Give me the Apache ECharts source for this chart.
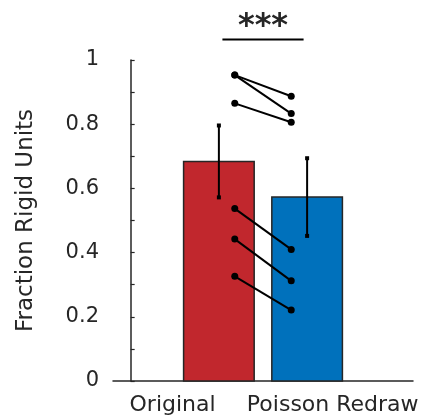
<!DOCTYPE html>
<html><head><meta charset="utf-8">
<script src="https://cdn.jsdelivr.net/npm/echarts@6/dist/echarts.min.js"></script>
<style>html,body{margin:0;padding:0;background:#fff}#c{width:425px;height:419px}</style>
</head><body><div id="c"></div>
<script>
// ---- data ----
const categories = ['Original', 'Poisson Redraw'];
const barPositions = [1, 2];
const means = [0.684, 0.573];
const sems = [0.112, 0.121];
const originalPoints = [0.953, 0.953, 0.865, 0.537, 0.442, 0.326];
const redrawPoints = [0.887, 0.833, 0.806, 0.410, 0.312, 0.221];
const yTickLabels = [0, 0.2, 0.4, 0.6, 0.8, 1];
const significanceLabel = '***';
const significanceLevel = 1.064;

// ---- layout / style ----
const barColors = ['#C1272D', '#0071BC'];
const ink = '#262626';
const font = 'DejaVu Sans';
const pairOffset = 0.18;
const labelPositions = [0.475, 2.29];

const chart = echarts.init(document.getElementById('c'), null, {renderer: 'canvas'});

const pairSeries = originalPoints.map((o, i) => ({
  type: 'line',
  data: [[barPositions[0] + pairOffset, o], [barPositions[1] - pairOffset, redrawPoints[i]]],
  symbol: 'circle', symbolSize: 7, showSymbol: true,
  itemStyle: {color: '#000'},
  lineStyle: {color: '#000', width: 2},
  z: 5, silent: true
}));

chart.setOption({
  animation: false,
  grid: {left: 113, right: 12, top: 60, bottom: 38, containLabel: false, outerBoundsMode: 'none'},
  xAxis: {
    type: 'value', min: -0.2, max: 3.2,
    splitLine: {show: false},
    axisLine: {show: true, onZero: false, lineStyle: {color: ink, width: 1.5}},
    axisTick: {show: true, inside: true, length: 4, customValues: barPositions, lineStyle: {color: ink, width: 1.2}},
    axisLabel: {
      customValues: labelPositions, margin: 13,
      fontFamily: font, fontSize: 22, color: ink,
      formatter: v => (v < 1.5 ? categories[0] : categories[1])
    }
  },
  yAxis: {
    type: 'value', min: 0, max: 1, interval: 0.1,
    splitLine: {show: false},
    axisLine: {show: true, lineStyle: {color: ink, width: 1.5}},
    axisTick: {show: true, inside: true, length: 4, lineStyle: {color: ink, width: 1.2}},
    axisLabel: {
      customValues: yTickLabels, margin: 14,
      fontFamily: font, fontSize: 21, color: ink,
      formatter: v => String(v)
    },
    name: 'Fraction Rigid Units', nameLocation: 'middle', nameGap: 75,
    nameTextStyle: {fontFamily: font, fontSize: 23, color: ink}
  },
  series: [
    {
      type: 'custom', clip: false, z: 2,
      data: barPositions.map((x, i) => [x, means[i]]),
      encode: {x: 0, y: 1},
      renderItem: (params, api) => {
        const x = api.value(0), y = api.value(1);
        const p0 = api.coord([x - 0.4, y]);
        const p1 = api.coord([x + 0.4, 0]);
        return {type: 'rect',
          shape: {x: p0[0], y: p0[1], width: p1[0] - p0[0], height: p1[1] - p0[1]},
          style: {fill: barColors[params.dataIndex], stroke: ink, lineWidth: 1.5}};
      }
    },
    {
      type: 'custom', clip: false, z: 4,
      data: barPositions.map((x, i) => [x, means[i] - sems[i], means[i] + sems[i]]),
      encode: {x: 0, y: [1, 2]},
      renderItem: (params, api) => {
        const x = api.value(0);
        const lo = api.coord([x, api.value(1)]);
        const hi = api.coord([x, api.value(2)]);
        const s = 4;
        return {type: 'group', children: [
          {type: 'line', shape: {x1: lo[0], y1: lo[1], x2: hi[0], y2: hi[1]}, style: {stroke: '#000', lineWidth: 2}},
          {type: 'rect', shape: {x: lo[0] - s / 2, y: lo[1] - s / 2, width: s, height: s}, style: {fill: '#000'}},
          {type: 'rect', shape: {x: hi[0] - s / 2, y: hi[1] - s / 2, width: s, height: s}, style: {fill: '#000'}}
        ]};
      }
    },
    {
      type: 'custom', clip: false, z: 4,
      data: [[barPositions[0] + 0.04, barPositions[1] - 0.04, significanceLevel]],
      encode: {x: [0, 1], y: 2},
      renderItem: (params, api) => {
        const a = api.coord([api.value(0), api.value(2)]);
        const b = api.coord([api.value(1), api.value(2)]);
        return {type: 'group', children: [
          {type: 'line', shape: {x1: a[0], y1: a[1], x2: b[0], y2: b[1]}, style: {stroke: '#000', lineWidth: 2}},
          {type: 'text', x: (a[0] + b[0]) / 2, y: a[1] + 3,
            style: {text: significanceLabel, fontFamily: font, fontSize: 32, fontWeight: 'bold', fill: ink,
              align: 'center', verticalAlign: 'bottom'}}
        ]};
      }
    }
  ].concat(pairSeries)
});
</script>
</body></html>
